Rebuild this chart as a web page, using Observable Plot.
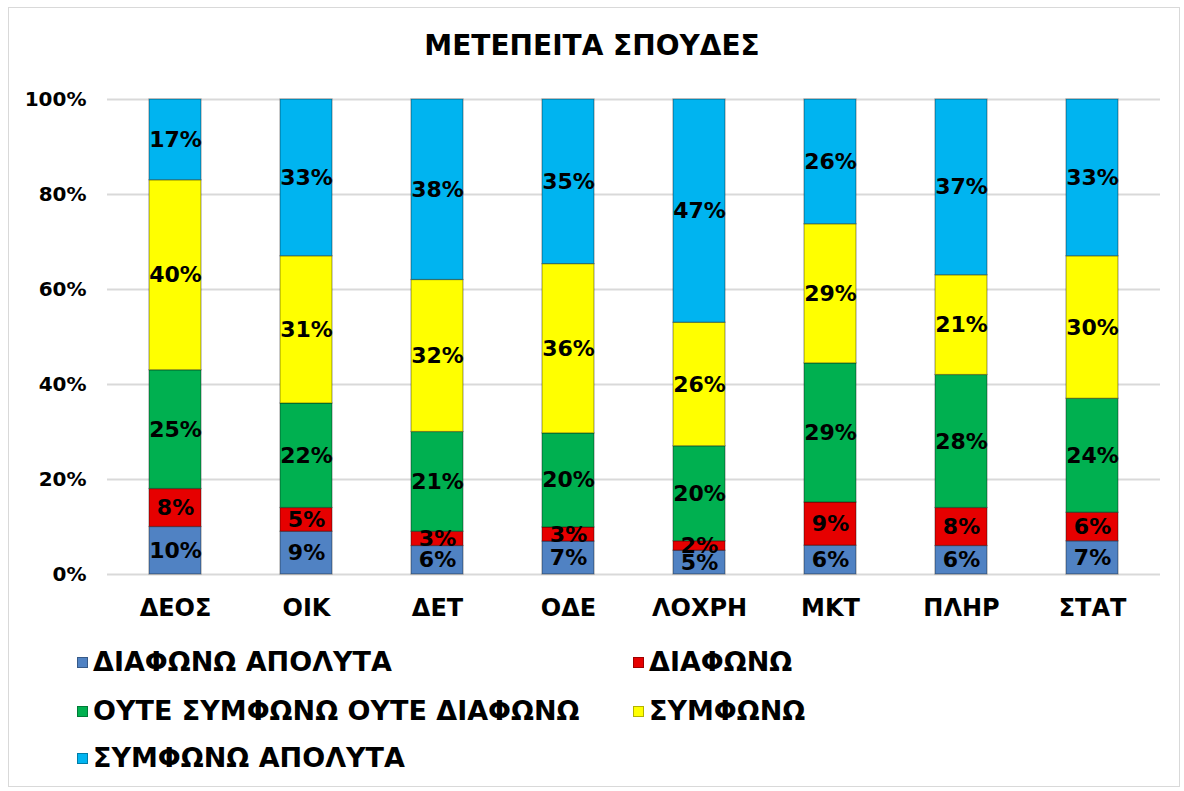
<!DOCTYPE html>
<html>
<head>
<meta charset="utf-8">
<script src="https://cdn.jsdelivr.net/npm/d3@7"></script>
<script src="https://cdn.jsdelivr.net/npm/@observablehq/plot@0.6"></script>
<style>
  html, body { margin: 0; padding: 0; background: #fff; }
  #wrap { position: relative; width: 1184px; height: 791px; overflow: hidden; font-family: "DejaVu Sans", sans-serif; }
  #frame { position: absolute; left: 8px; top: 7px; width: 1172px; height: 780px; border: 1px solid #d9d9d9; box-sizing: border-box; }
  #title { position: absolute; left: 0; width: 1184px; top: 29px; text-align: center; font-weight: bold; font-size: 28px; color: #000; }
  #chart { position: absolute; left: 0; top: 0; }
  .leg { position: absolute; font-weight: bold; font-size: 27px; color: #000; white-space: nowrap; line-height: 30px; }
  .leg i { display: inline-block; width: 11px; height: 11px; margin-right: 5px; vertical-align: 3px; box-shadow: inset 0 0 0 1px rgba(0,0,0,0.3); }
</style>
</head>
<body>
<div id="wrap">
  <div id="frame"></div>
  <div id="chart"></div>
  <div id="title">ΜΕΤΕΠΕΙΤΑ ΣΠΟΥΔΕΣ</div>
  <div id="legend"></div>
</div>
<script>
const categories = ["ΔΕΟΣ", "ΟΙΚ", "ΔΕΤ", "ΟΔΕ", "ΛΟΧΡΗ", "ΜΚΤ", "ΠΛΗΡ", "ΣΤΑΤ"];
const seriesNames = ["ΔΙΑΦΩΝΩ ΑΠΟΛΥΤΑ", "ΔΙΑΦΩΝΩ", "ΟΥΤΕ ΣΥΜΦΩΝΩ ΟΥΤΕ ΔΙΑΦΩΝΩ", "ΣΥΜΦΩΝΩ", "ΣΥΜΦΩΝΩ ΑΠΟΛΥΤΑ"];
const seriesColors = ["#5082c3", "#e60000", "#00b050", "#ffff00", "#00b4f0"];
const diafonoApolyta = [10, 9, 6, 7, 5, 6, 6, 7];
const diafono = [8, 5, 3, 3, 2, 9, 8, 6];
const oute = [25, 22, 21, 20, 20, 29, 28, 24];
const symfono = [40, 31, 32, 36, 26, 29, 21, 30];
const symfonoApolyta = [17, 33, 38, 35, 47, 26, 37, 33];
const yTicks = [0, 0.2, 0.4, 0.6, 0.8, 1];

const seriesValues = [diafonoApolyta, diafono, oute, symfono, symfonoApolyta];
const data = [];
seriesNames.forEach((s, si) => {
  categories.forEach((c, ci) => {
    data.push({cat: c, series: s, order: si, value: seriesValues[si][ci]});
  });
});

const stackOpts = {x: "cat", y: "value", z: "series", order: seriesNames, offset: "normalize"};
const font = "'DejaVu Sans', sans-serif";

const plot = Plot.plot({
  width: 1184,
  height: 640,
  marginTop: 99,
  marginBottom: 66,
  marginLeft: 107,
  marginRight: 24,
  style: {fontFamily: font, background: "transparent"},
  x: {domain: categories, paddingInner: 0.6, paddingOuter: 0.3, label: null},
  y: {domain: [0, 1], label: null},
  color: {domain: seriesNames, range: seriesColors},
  marks: [
    Plot.ruleY(yTicks, {stroke: "#d9d9d9", strokeWidth: 2}),
    Plot.barY(data, Plot.stackY({...stackOpts, fill: "series", stroke: "rgba(0,0,0,0.35)", strokeWidth: 1.2})),
    Plot.text(data, Plot.stackY({...stackOpts, text: d => d.value + "%", fill: "#000", fontWeight: "bold", fontSize: 22})),
    Plot.axisX({tickSize: 0, tickPadding: 24, fontSize: 24, fontWeight: "bold", fill: "#000", label: null}),
    Plot.axisY({ticks: yTicks, tickFormat: d3.format(".0%"), tickSize: 0, tickPadding: 21, fontSize: 20, fontWeight: "bold", fill: "#000", label: null})
  ]
});
document.getElementById("chart").appendChild(plot);

const legendPos = [[77, 647], [633, 647], [77, 696], [633, 696], [77, 743]];
const leg = document.getElementById("legend");
seriesNames.forEach((s, i) => {
  const d = document.createElement("div");
  d.className = "leg";
  d.style.left = legendPos[i][0] + "px";
  d.style.top = legendPos[i][1] + "px";
  d.innerHTML = `<i style="background:${seriesColors[i]}"></i>${s}`;
  leg.appendChild(d);
});
</script>
</body>
</html>
